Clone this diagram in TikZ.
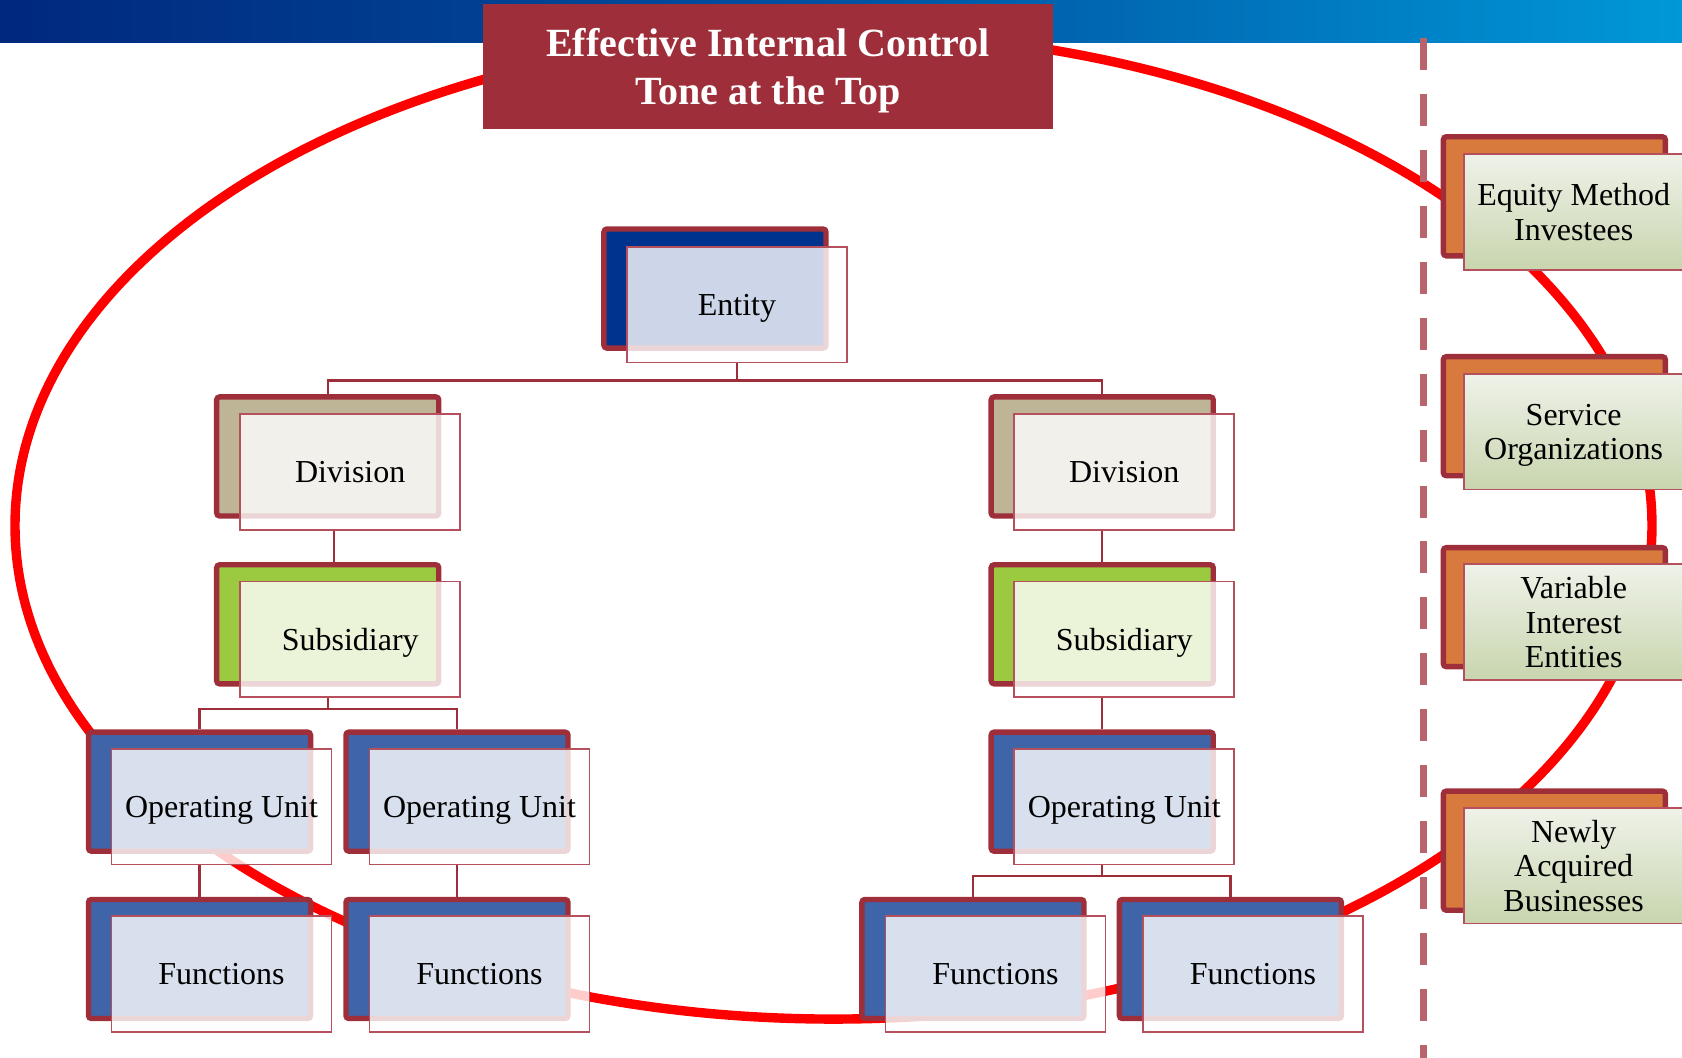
\documentclass[tikz,border=0pt]{standalone}
\usepackage{fontspec}
\setmainfont{Liberation Serif}
\usetikzlibrary{positioning}

\def\px{0.5364pt}

\definecolor{boxred}{HTML}{9E2F3A}
\definecolor{linered}{HTML}{B5505C}
\definecolor{seppink}{HTML}{B9636D}
\definecolor{barleft}{HTML}{00287D}
\definecolor{barmid}{HTML}{0052A2}
\definecolor{barright}{HTML}{0098D8}
\definecolor{entblue}{HTML}{00338D}
\definecolor{divtan}{HTML}{BEB596}
\definecolor{subgreen}{HTML}{9BC93F}
\definecolor{unitblue}{HTML}{3F64A8}
\definecolor{sideorange}{HTML}{D8793E}
\definecolor{sagetop}{HTML}{EFF2E9}
\definecolor{sagebot}{HTML}{C8D5AE}

\tikzset{
  backbox/.style={draw=boxred, line width=2.7pt, fill=#1, rounded corners=1.5pt,
    minimum width=207*\px, minimum height=111*\px, inner sep=0pt},
  frontbox/.style={draw=linered, line width=0.8pt, fill=white, fill opacity=0.8,
    text opacity=1, minimum width=205*\px, minimum height=108*\px, inner sep=0pt,
    text depth=0pt, align=center, font=\fontsize{16}{17.2}\selectfont},
  sidebox/.style={draw=linered, line width=0.8pt, top color=sagetop, bottom color=sagebot,
    minimum width=205*\px, minimum height=108*\px, inner sep=0pt,
    text depth=0pt, align=center, font=\fontsize{16}{17.2}\selectfont},
  conn/.style={draw=boxred, line width=1.1pt},
  ring/.style={draw=red, line width=4.7pt},
  sepline/.style={draw=seppink, line width=3.5pt, dash pattern=on 16pt off 12pt},
}

\begin{document}
\begin{tikzpicture}[x=\px, y=-\px]

   \useasboundingbox (0,0) rectangle (1568,986);

   % banner
   \fill[left color=barleft, right color=barright, middle color=barmid]
      (0,0) rectangle (1568,40);

   % control ring and scope line
   \draw[ring] (777,490) ellipse [x radius=763, y radius=460];
   \draw[sepline] (1327,35) -- (1327,986);

   \node[fill=boxred, text=white, minimum width=532*\px, minimum height=116*\px,
      text depth=0pt, align=center, font=\fontsize{20}{24}\bfseries] (title) at (716,62)
      {Effective Internal Control\\Tone at the Top};

   % entity tree
   \node[backbox=entblue] (entb) at (666.5,269) {};
   \node[frontbox] (ent) at (687,284) {Entity};

   \node[backbox=divtan] (divLb) at (305.5,425.5) {};
   \node[frontbox] (divL) at (326.5,440) {Division};
   \node[backbox=divtan] (divRb) at (1027.5,425.5) {};
   \node[frontbox] (divR) at (1048,440) {Division};

   \node[backbox=subgreen] (subLb) at (305.5,582) {};
   \node[frontbox] (subL) at (326.5,596) {Subsidiary};
   \node[backbox=subgreen] (subRb) at (1027.5,582) {};
   \node[frontbox] (subR) at (1048,596) {Subsidiary};

   \node[backbox=unitblue] (ouL1b) at (186,738) {};
   \node[frontbox] (ouL1) at (206.5,752) {Operating Unit};
   \node[backbox=unitblue] (ouL2b) at (426,738) {};
   \node[frontbox] (ouL2) at (447,752) {Operating Unit};
   \node[backbox=unitblue] (ouRb) at (1027.5,738) {};
   \node[frontbox] (ouR) at (1048,752) {Operating Unit};

   \node[backbox=unitblue] (fnL1b) at (186,894) {};
   \node[frontbox] (fnL1) at (206.5,908) {Functions};
   \node[backbox=unitblue] (fnL2b) at (426,894) {};
   \node[frontbox] (fnL2) at (447,908) {Functions};
   \node[backbox=unitblue] (fnR1b) at (907,894) {};
   \node[frontbox] (fnR1) at (928,908) {Functions};
   \node[backbox=unitblue] (fnR2b) at (1147,894) {};
   \node[frontbox] (fnR2) at (1168,908) {Functions};

   \draw[conn] (ent.south) -- ++(0,16) -| (divLb.north);
   \draw[conn] (ent.south) -- ++(0,16) -| (divRb.north);
   \draw[conn] ([xshift=6*\px]divL.south -| divLb) -- ([xshift=6*\px]subLb.north);
   \draw[conn] (divR.south -| divRb) -- (subRb.north);
   \draw[conn] (subL.south -| subLb) -- ++(0,10) -| (ouL1b.north);
   \draw[conn] (subL.south -| subLb) -- ++(0,10) -| (ouL2b.north);
   \draw[conn] (subR.south -| subRb) -- (ouRb.north);
   \draw[conn] (ouL1.south -| ouL1b) -- (fnL1b.north);
   \draw[conn] (ouL2.south -| ouL2b) -- (fnL2b.north);
   \draw[conn] (ouR.south -| ouRb) -- ++(0,10) -| (fnR1b.north);
   \draw[conn] (ouR.south -| ouRb) -- ++(0,10) -| (fnR2b.north);

   % outside the entity
   \node[backbox=sideorange] (eqb) at (1449,183) {};
   \node[sidebox] (eq) at (1467,197.5) {Equity Method\\Investees};
   \node[backbox=sideorange] (svcb) at (1449,388) {};
   \node[sidebox] (svc) at (1467,402.5) {Service\\Organizations};
   \node[backbox=sideorange] (vieb) at (1449,566) {};
   \node[sidebox] (vie) at (1467,580) {Variable\\Interest\\Entities};
   \node[backbox=sideorange] (nabb) at (1449,793) {};
   \node[sidebox] (nab) at (1467,807) {Newly\\Acquired\\Businesses};

\end{tikzpicture}
\end{document}
